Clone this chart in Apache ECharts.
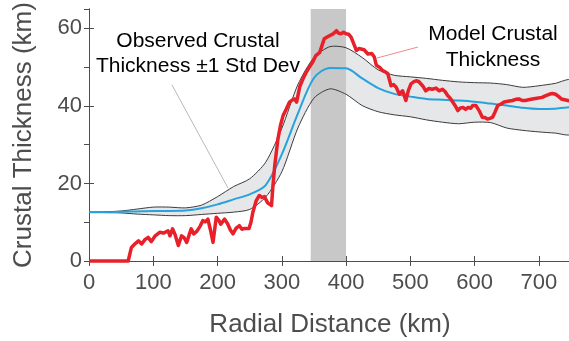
<!DOCTYPE html>
<html>
<head>
<meta charset="utf-8">
<script src="https://cdn.jsdelivr.net/npm/echarts@6/dist/echarts.min.js"></script>
<style>
  html, body { margin: 0; padding: 0; background: #fff; }
  #chart { width: 569px; height: 341px; }
</style>
</head>
<body>
<div id="chart"></div>
<script>
// model crustal thickness (red)
const modelX = [0, 61, 66, 72, 77, 82, 87, 92, 97, 103, 110, 116, 123, 126, 130, 134, 139, 144, 148, 152, 159, 163, 168, 173, 177, 181, 185, 189, 193, 198, 202, 205, 208, 211, 216, 220, 224, 229, 234, 238, 242, 249, 252, 255, 260, 265, 269, 273, 278, 284, 286, 289, 294, 298, 302, 307, 312, 316, 320, 323, 328, 333, 338, 343, 348, 353, 359, 366, 374, 380, 385, 388, 392, 396, 400, 404, 408, 412, 416, 420, 423, 428, 434, 440, 444, 447, 452, 457, 461, 465, 470, 474, 478, 483, 488, 493, 497, 501, 505, 509, 513, 516, 520, 524, 529, 534, 540, 545, 550, 554, 558, 562, 566, 570, 574, 578, 582, 586, 590, 594, 597, 602, 607, 612, 616, 620, 624, 628, 632, 636, 641, 646, 652, 659, 664, 669, 674, 679, 684, 690, 697, 705, 710, 716, 721, 726, 731, 735, 740, 745, 750];
const modelY = [0, 0, 3.5, 4.5, 5.2, 4.4, 5.5, 6.1, 5, 6.5, 7.4, 7.2, 7.8, 6.5, 8.3, 6.8, 4, 6.5, 6, 4.8, 8.3, 7, 7.7, 9, 10.4, 10.1, 10.8, 8, 4.8, 11.3, 10.5, 9.5, 10, 10.8, 9.5, 8, 7, 8.5, 9.1, 8.2, 8.4, 8.4, 10, 12.6, 15.5, 16.9, 16.4, 16.6, 15, 14.3, 19, 24.6, 31.5, 35, 37.5, 39.2, 41, 41.5, 41.8, 41, 45, 47, 48.7, 50, 51.3, 53, 53.8, 57.3, 58.1, 58.6, 59.4, 58.8, 58.6, 59, 58.6, 58.5, 57.7, 56, 54.3, 54.8, 55.1, 54.5, 53.4, 53.5, 52.6, 50.5, 50, 49.1, 48.8, 48.3, 45.2, 45.5, 44.8, 43, 43.9, 41.4, 44, 45.7, 46.2, 46.5, 46.3, 46, 45, 43.9, 44.5, 44.3, 44.6, 43.9, 44.3, 43.7, 42.7, 42, 41, 40, 38.8, 39.5, 39.6, 39.1, 39.6, 39.4, 40.1, 40.1, 38.8, 37.1, 37, 36.6, 36.8, 37.1, 38.5, 40.1, 40.5, 41, 41.2, 41.4, 41.7, 41.8, 41.4, 41.4, 41.6, 41.8, 42, 42.2, 42.6, 43, 43.2, 43, 42.4, 41.8, 41.6, 41.4, 41.2];

// observed crustal thickness, mean and +/-1 std dev
const obsX = [0, 25, 50, 75, 100, 125, 150, 175, 200, 225, 250, 275, 300, 325, 350, 375, 400, 425, 450, 475, 500, 525, 550, 575, 600, 625, 650, 675, 700, 725, 750];
const obsMean = [12.6, 12.6, 12.7, 12.8, 12.9, 12.9, 13.0, 13.6, 14.6, 15.9, 17.2, 19.6, 27.5, 38, 47.2, 49.8, 49.7, 47.1, 44.6, 43.1, 42.4, 41.8, 41.6, 41.4, 41.1, 40.6, 40.1, 39.5, 39.2, 39.3, 39.7];
const obsUpper = [12.6, 12.7, 12.9, 13.4, 13.9, 13.9, 13.7, 14.4, 16.6, 19.2, 21.2, 25.5, 34.2, 45.5, 52.5, 55.3, 55, 52.5, 49.3, 47.9, 47.5, 47.1, 46.6, 46.2, 46, 45.9, 45.5, 44.8, 45.2, 45.8, 46.6];
const obsLower = [12.6, 12.5, 12.4, 12.1, 11.9, 11.7, 11.7, 12.0, 12.3, 12.6, 13.3, 16.5, 23, 34.3, 42, 44.4, 43, 40.1, 38.5, 37.7, 37.2, 36.4, 35.8, 35.4, 35.8, 35.7, 34.3, 33.7, 33.3, 33.0, 32.8];

// shaded distance range
const shadeRange = [345, 400];

const xTicks = { min: 0, max: 750, interval: 100 };
const yTicks = { min: 0, max: 65, interval: 20 };
const yTicksRight = { min: 0, max: 65, interval: 10 };

const font = "'Liberation Sans', Arial, Helvetica, sans-serif";
const axisGray = '#4d4d4d';

function bandPoints(api) {
  const pts = [];
  for (let i = 0; i < obsX.length; i++) pts.push(api.coord([obsX[i], obsUpper[i]]));
  for (let i = obsX.length - 1; i >= 0; i--) pts.push(api.coord([obsX[i], obsLower[i]]));
  return pts;
}

const chart = echarts.init(document.getElementById('chart'), null, { renderer: 'canvas' });

const baseAxis = {
  type: 'value',
  axisLine: { show: true, lineStyle: { color: axisGray, width: 1 } },
  axisTick: { show: true, inside: true, length: 5, lineStyle: { color: axisGray } },
  splitLine: { show: false }
};

chart.setOption({
  animation: false,
  grid: { left: 89, right: -2, top: 9, bottom: 80, outerBoundsMode: 'none', containLabel: false },
  xAxis: [
    Object.assign({}, baseAxis, xTicks, {
      position: 'bottom',
      name: 'Radial Distance (km)',
      nameLocation: 'middle',
      nameGap: 51,
      nameTextStyle: { color: axisGray, fontSize: 26, fontFamily: font },
      axisLabel: { color: axisGray, fontSize: 22, fontFamily: font, margin: 11 }
    }),
    Object.assign({}, baseAxis, xTicks, { position: 'top', axisLabel: { show: false } })
  ],
  yAxis: [
    Object.assign({}, baseAxis, yTicks, {
      position: 'left',
      name: 'Crustal Thickness (km)',
      nameLocation: 'middle',
      nameGap: 52,
      nameTextStyle: { color: axisGray, fontSize: 26, fontFamily: font },
      axisLabel: { color: axisGray, fontSize: 22, fontFamily: font, margin: 7, showMaxLabel: false }
    }),
    Object.assign({}, baseAxis, yTicksRight, { position: 'right', axisLabel: { show: false } })
  ],
  series: [
    {
      type: 'custom',
      name: 'band fill',
      z: 1,
      silent: true,
      data: [[0]],
      renderItem: function (params, api) {
        return {
          type: 'polygon',
          shape: { points: bandPoints(api), smooth: 0.25 },
          style: { fill: '#e6e7e9', stroke: null }
        };
      }
    },
    {
      type: 'custom',
      name: 'shade',
      z: 2,
      silent: true,
      data: [shadeRange],
      renderItem: function (params, api) {
        const p0 = api.coord([api.value(0), yTicks.max]);
        const p1 = api.coord([api.value(1), yTicks.min]);
        return {
          type: 'rect',
          shape: { x: p0[0], y: p0[1], width: p1[0] - p0[0], height: p1[1] - p0[1] },
          style: { fill: '#c8c8c8' }
        };
      }
    },
    {
      type: 'custom',
      name: 'band edge',
      z: 3,
      silent: true,
      data: [[0]],
      renderItem: function (params, api) {
        return {
          type: 'polygon',
          shape: { points: bandPoints(api), smooth: 0.25 },
          style: { fill: null, stroke: '#3a3a3a', lineWidth: 1 }
        };
      }
    },
    {
      type: 'line',
      name: 'mean',
      z: 4,
      smooth: 0.3,
      showSymbol: false,
      lineStyle: { color: '#27a2dc', width: 2 },
      data: obsX.map((x, i) => [x, obsMean[i]])
    },
    {
      type: 'line',
      name: 'model',
      z: 5,
      clip: false,
      showSymbol: false,
      lineStyle: { color: '#e8202a', width: 3.5, join: 'round' },
      data: modelX.map((x, i) => [x, modelY[i]])
    }
  ],
  graphic: [
    { type: 'line', z: 10, shape: { x1: 172, y1: 85, x2: 228, y2: 188 }, style: { stroke: '#b8b8b8', lineWidth: 1 } },
    { type: 'line', z: 10, shape: { x1: 418, y1: 47, x2: 377, y2: 58 }, style: { stroke: '#f08a8a', lineWidth: 1 } },
    {
      type: 'text', z: 10, x: 198, y: 54,
      style: {
        text: 'Observed Crustal\nThickness \u00b11 Std Dev',
        fill: '#000', font: '21px ' + font, align: 'center', verticalAlign: 'middle', lineHeight: 25
      }
    },
    {
      type: 'text', z: 10, x: 493, y: 47,
      style: {
        text: 'Model Crustal\nThickness',
        fill: '#000', font: '21px ' + font, align: 'center', verticalAlign: 'middle', lineHeight: 26
      }
    }
  ]
});
</script>
</body>
</html>
